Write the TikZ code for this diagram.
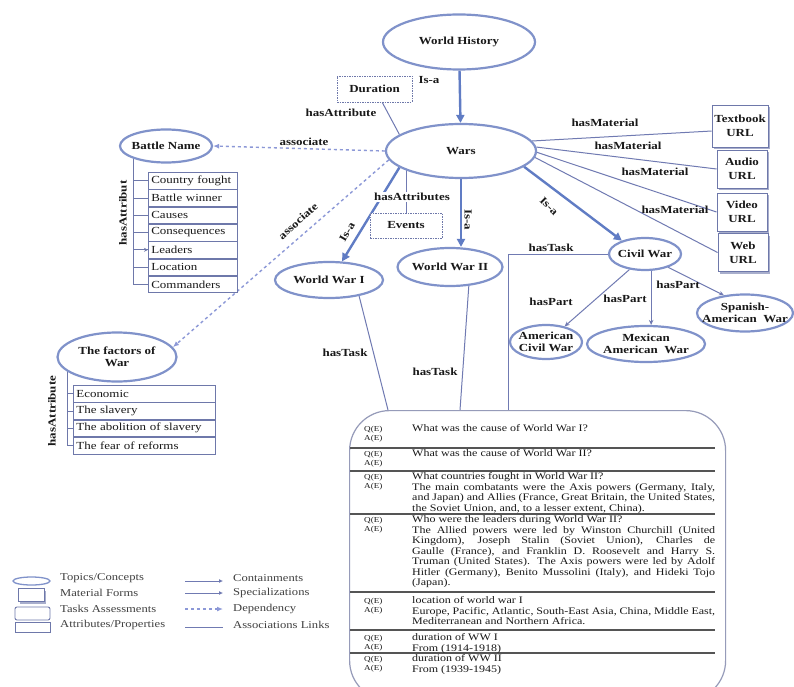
\documentclass[tikz,border=0pt]{standalone}
\usepackage{fontspec}
\setmainfont{Liberation Serif}[FakeStretch=1.2]
\usetikzlibrary{shapes.geometric,arrows.meta,shadows}

\definecolor{ellc}{RGB}{128,146,202}
\definecolor{isac}{RGB}{96,124,196}
\definecolor{lnkc}{RGB}{112,122,178}
\definecolor{depc}{RGB}{140,152,215}
\definecolor{boxc}{RGB}{110,120,170}
\definecolor{txtc}{RGB}{25,25,25}
\definecolor{sepc}{RGB}{85,85,85}
\definecolor{tbc}{RGB}{150,155,185}

\pgfdeclarelayer{bg}
\pgfdeclarelayer{canvas}
\pgfsetlayers{canvas,bg,main}

% text helpers for the task table
\newcommand{\jline}[1]{\hbox to 303pt{#1}}
\newcommand{\pline}[1]{\hbox{#1}}
\newcommand{\qablock}[1]{\vtop{\baselineskip=10.5pt\lineskiplimit=-\maxdimen\lineskip=0pt #1}}
\newcommand{\qalabel}{\vtop{\baselineskip=9.5pt\lineskiplimit=-\maxdimen\lineskip=0pt\hbox{Q(E)}\hbox{A(E)}}}

\tikzset{
  every node/.style={text=txtc},
  concept/.style={ellipse, draw=ellc, line width=2.2pt, fill=white, inner sep=-15pt,
    align=center, font=\fontsize{10.8}{11.5}\selectfont\bfseries},
  material/.style={rectangle, draw=boxc, line width=0.9pt, fill=white, inner sep=0pt,
    align=center, font=\fontsize{10.8}{14}\selectfont\bfseries,
    drop shadow={shadow xshift=2pt, shadow yshift=-2pt, fill=boxc!60, opacity=1}},
  attrbox/.style={rectangle, draw=boxc, line width=0.8pt, dash pattern=on 1.5pt off 1pt,
    fill=white, inner sep=0pt, font=\fontsize{10.8}{12}\selectfont\bfseries},
  listrow/.style={rectangle, draw=boxc, line width=0.7pt, fill=white, anchor=north west,
    minimum height=16.6pt, inner ysep=0pt, inner xsep=3pt, align=left,
    font=\fontsize{10.8}{12}\selectfont},
  elabel/.style={inner sep=1pt, font=\fontsize{10.8}{12}\selectfont\bfseries},
  isa/.style={draw=isac, line width=2.4pt, -{Triangle[length=8pt,width=8pt]}},
  lnk/.style={draw=lnkc, line width=1pt},
  part/.style={draw=lnkc, line width=1pt, -{Stealth[length=5pt,width=4.5pt]}},
  dep/.style={draw=depc, line width=1.4pt, dash pattern=on 3pt off 3pt, -{Latex[length=6pt,width=5pt]}},
  spine/.style={draw=boxc, line width=0.8pt},
  taskbox/.style={rectangle, rounded corners=40pt, draw=tbc, line width=1.2pt, fill=white},
  tasktext/.style={anchor=base west, inner sep=0pt, font=\fontsize{10}{10.5}\selectfont},
  qatext/.style={anchor=base west, inner sep=0pt, font=\fontsize{7.6}{9.5}\selectfont},
  sepline/.style={draw=sepc, line width=1.3pt},
  legtext/.style={anchor=west, inner sep=0pt, text=black!75, font=\fontsize{10.5}{12}\selectfont},
}

\begin{document}
\begin{tikzpicture}[x=1pt,y=-1pt]
\useasboundingbox (0,0) rectangle (794,687);
\begin{pgfonlayer}{canvas}
  \fill[white] (0,0) rectangle (794,687);
\end{pgfonlayer}
\clip (0,0) rectangle (794,687);

% ---------- concepts ----------
\node[concept, minimum width=152pt, minimum height=55pt] (wh) at (459,42) {World History};
\node[concept, minimum width=150pt, minimum height=54pt] (wars) at (461,151) {Wars};
\node[concept, minimum width=92pt, minimum height=33pt] (battle) at (166,146) {Battle Name};
\node[concept, minimum width=119pt, minimum height=49pt] (factors) at (117,357) {The factors of\\War};
\node[concept, minimum width=108pt, minimum height=36pt] (ww1) at (329,280) {World War I};
\node[concept, minimum width=105pt, minimum height=38pt] (ww2) at (450,267) {World War II};
\node[concept, minimum width=72pt, minimum height=32pt] (civil) at (645,254) {Civil War};
\node[concept, minimum width=72pt, minimum height=34pt] (acw) at (546,342) {American\\Civil War};
\node[concept, minimum width=118pt, minimum height=36pt] (mex) at (646,344) {Mexican\\American\ \ War};
\node[concept, minimum width=96pt, minimum height=37pt] (spa) at (745,313) {Spanish-\\American\ \ War};

% ---------- attribute boxes ----------
\node[attrbox, minimum width=75pt, minimum height=26pt] (dur) at (374.5,89) {Duration};
\node[attrbox, minimum width=72pt, minimum height=25pt] (events) at (406,225.5) {Events};

% ---------- material forms ----------
\node[material, minimum width=56pt, minimum height=42pt] (tb) at (740,126) {Textbook\\URL};
\node[material, minimum width=50pt, minimum height=38pt] (au) at (742,169) {Audio\\URL};
\node[material, minimum width=50pt, minimum height=38pt] (vi) at (742,212) {Video\\URL};
\node[material, minimum width=50pt, minimum height=38pt] (we) at (743,252.5) {Web\\URL};

% ---------- battle attribute list ----------
\node[listrow, text width=83pt] (b1) at (148,172) {Country fought};
\node[listrow, text width=83pt] (b2) at (b1.south west) {Battle winner};
\node[listrow, text width=83pt] (b3) at (b2.south west) {Causes};
\node[listrow, text width=83pt] (b4) at (b3.south west) {Consequences};
\node[listrow, text width=83pt] (b5) at (b4.south west) {Leaders};
\node[listrow, text width=83pt] (b6) at (b5.south west) {Location};
\node[listrow, text width=83pt] (b7) at (b6.south west) {Commanders};
\coordinate (bspine) at (133,158);

% ---------- factor attribute list ----------
\node[listrow, text width=136pt] (f1) at (73,385) {Economic};
\node[listrow, text width=136pt] (f2) at (f1.south west) {The slavery};
\node[listrow, text width=136pt] (f3) at (f2.south west) {The abolition of slavery};
\node[listrow, text width=136pt] (f4) at (f3.south west) {The fear of reforms};
\coordinate (fspine) at (67,370);

% ---------- task table ----------
\node[taskbox, anchor=north west, minimum width=376pt, minimum height=290pt] (tasks) at (349,410) {};
\coordinate (t1) at (388,410);
\coordinate (t2) at (460,410);
\coordinate (t3) at (508,410);

\foreach \y in {448,471,514,592,630,653}
  \draw[sepline] (350,\y) -- (715,\y);

\node[qatext] (q1) at (364,431) {\qalabel};
\node[qatext] (q2) at (364,456) {\qalabel};
\node[qatext] (q3) at (364,479) {\qalabel};
\node[qatext] (q4) at (364,522) {\qalabel};
\node[qatext] (q5) at (364,603) {\qalabel};
\node[qatext] (q6) at (364,640) {\qalabel};
\node[qatext] (q7) at (364,661) {\qalabel};

\node[tasktext] (r1) at (412,431.5) {\qablock{\pline{What was the cause of World War I?}}};
\node[tasktext] (r2) at (412,456.5) {\qablock{\pline{What was the cause of World War II?}}};
\node[tasktext] (r3) at (412,479.5) {\qablock{%
  \pline{What countries fought in World War II?}
  \jline{The main combatants were the Axis powers (Germany, Italy,}
  \jline{and Japan) and Allies (France, Great Britain, the United States,}
  \pline{the Soviet Union, and, to a lesser extent, China).}}};
\node[tasktext] (r4) at (412,522.5) {\qablock{%
  \pline{Who were the leaders during World War II?}
  \jline{The Allied powers were led by Winston Churchill (United}
  \jline{Kingdom), Joseph Stalin (Soviet Union), Charles de}
  \jline{Gaulle (France), and Franklin D. Roosevelt and Harry S.}
  \jline{Truman (United States). The Axis powers were led by Adolf}
  \jline{Hitler (Germany), Benito Mussolini (Italy), and Hideki Tojo}
  \pline{(Japan).}}};
\node[tasktext] (r5) at (412,603.5) {\qablock{%
  \pline{location of world war I}
  \jline{Europe, Pacific, Atlantic, South-East Asia, China, Middle East,}
  \pline{Mediterranean and Northern Africa.}}};
\node[tasktext] (r6) at (412,640.5) {\qablock{%
  \pline{duration of WW I}
  \pline{From (1914-1918)}}};
\node[tasktext] (r7) at (412,661.5) {\qablock{%
  \pline{duration of WW II}
  \pline{From (1939-1945)}}};

% ---------- connector labels ----------
\node[elabel] (l1) at (429,80) {Is-a};
\node[elabel] (l2) at (341,113) {hasAttribute};
\node[elabel] (l3) at (304,142) {associate};
\node[elabel, rotate=42] (l4) at (298,221) {associate};
\node[elabel, rotate=60] (l5) at (347,232) {Is-a};
\node[elabel, rotate=-90] (l6) at (468,220) {Is-a};
\node[elabel, fill=white] (l7) at (412,197) {hasAttributes};
\node[elabel, rotate=-45] (l8) at (549,206) {Is-a};
\node[elabel] (m1) at (605,123) {hasMaterial};
\node[elabel] (m2) at (628,146) {hasMaterial};
\node[elabel] (m3) at (655,172) {hasMaterial};
\node[elabel] (m4) at (675,210) {hasMaterial};
\node[elabel] (k1) at (551,248) {hasTask};
\node[elabel] (k2) at (345,353) {hasTask};
\node[elabel] (k3) at (435,372) {hasTask};
\node[elabel] (p1) at (551,302) {hasPart};
\node[elabel] (p2) at (625,299) {hasPart};
\node[elabel] (p3) at (678,285) {hasPart};
\node[elabel, rotate=90] (a1) at (123,213) {hasAttribut};
\node[elabel, rotate=90] (a2) at (52,411) {hasAttribute};

% ---------- connectors ----------
\begin{pgfonlayer}{bg}
  \draw[isa] (wh) -- (wars);
  \draw[isa] (wars.195) -- (ww1.55);
  \draw[isa] (wars.south) -- (wars.south |- ww2.north);
  \draw[isa] (wars.-14) -- (civil.150);

  \draw[lnk] (dur.-60) -- (wars.165);
  \draw[lnk] (events.north) -- (events.north |- wars.center);

  \draw[lnk] (wars.8) -- (tb.190);
  \draw[lnk] (wars.3) -- (au.west);
  \draw[lnk] (wars.-1) -- (vi.west);
  \draw[lnk] (wars.-5) -- (we.west);

  \draw[dep] (wars.west) -- (battle.east);
  \draw[dep] (wars.187) -- (factors.10);

  \draw[lnk] (ww1.-28) -- (t1);
  \draw[lnk] (ww2.-45) -- (t2);
  \draw[lnk] (civil.west) -| (t3);

  \draw[part] (civil.225) -- (acw.40);
  \draw[part] (civil.-70) -- (civil.-70 |- mex.north);
  \draw[part] (civil.-30) -- (spa.140);

  \foreach \i in {1,...,7} \draw[spine] (bspine) |- (b\i.west);
  \draw[spine, -{Stealth[length=4pt,width=4pt]}] (bspine |- b5.west) -- (b5.west);
  \foreach \i in {1,...,4} \draw[spine] (fspine) |- (f\i.west);
\end{pgfonlayer}

% ---------- legend ----------
\node[ellipse, draw=ellc, line width=1.3pt, minimum width=37pt, minimum height=8pt, inner sep=0pt] (lg1) at (31.5,581) {};
\node[rectangle, draw=boxc, line width=0.9pt, fill=white, minimum width=26pt, minimum height=13pt, inner sep=0pt,
  drop shadow={shadow xshift=2pt, shadow yshift=-2pt, fill=boxc!60, opacity=1}] (lg2) at (31,595) {};
\node[rectangle, rounded corners=2pt, draw=boxc, line width=0.9pt, minimum width=35pt, minimum height=13pt, inner sep=0pt] (lg3) at (32.5,613.5) {};
\node[rectangle, draw=boxc, line width=0.9pt, minimum width=35pt, minimum height=10pt, inner sep=0pt] (lg4) at (32.5,627.5) {};
\node[legtext] (lt1) at (60,578) {Topics/Concepts};
\node[legtext] (lt2) at (60,593) {Material Forms};
\node[legtext] (lt3) at (60,608.5) {Tasks Assessments};
\node[legtext] (lt4) at (60,624.5) {Attributes/Properties};

\coordinate (la1) at (185,581); \coordinate (lb1) at (223,581);
\coordinate (la2) at (185,593); \coordinate (lb2) at (223,593);
\coordinate (la3) at (185,609); \coordinate (lb3) at (223,609);
\coordinate (la4) at (185,627); \coordinate (lb4) at (223,627);
\draw[lnk, -{Latex[length=4pt,width=4pt]}] (la1) -- (lb1);
\draw[lnk, -{Latex[length=4pt,width=4pt]}] (la2) -- (lb2);
\draw[dep, line width=1.2pt] (la3) -- (lb3);
\draw[lnk] (la4) -- (lb4);
\node[legtext] (lr1) at (233,578) {Containments};
\node[legtext] (lr2) at (233,593) {Specializations};
\node[legtext] (lr3) at (233,608.5) {Dependency};
\node[legtext] (lr4) at (233,624.5) {Associations Links};
\end{tikzpicture}
\end{document}
